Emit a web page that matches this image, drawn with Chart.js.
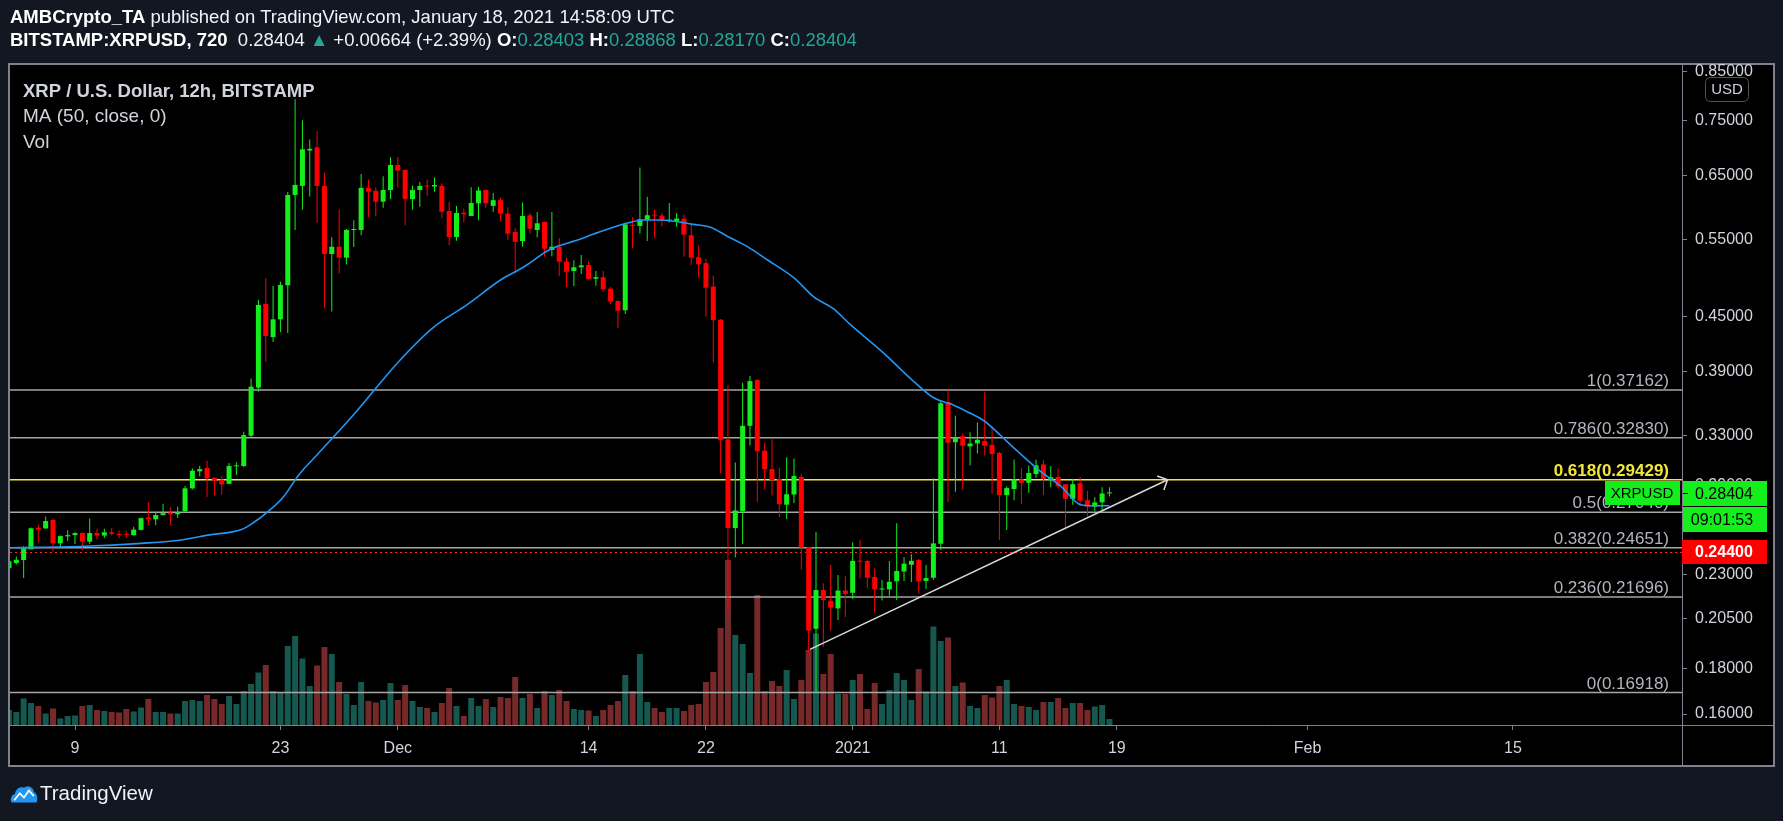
<!DOCTYPE html>
<html>
<head>
<meta charset="utf-8">
<title>XRP / U.S. Dollar, 12h, BITSTAMP</title>
<script src="https://cdn.jsdelivr.net/npm/chart.js@4.4.1/dist/chart.umd.min.js"></script>
<style>
  html, body { margin: 0; padding: 0; background: #131722; }
  body { width: 1783px; height: 821px; position: relative; overflow: hidden;
         font-family: "Liberation Sans", Arial, sans-serif; color: #e0e3eb; }
  #frame { position: absolute; left: 8px; top: 63px; width: 1767px; height: 704px;
           box-sizing: border-box; border: 2px solid #7f828c; background: #000; }
  #chart { position: absolute; left: 0; top: 0; }
  .hdr { position: absolute; left: 10px; font-size: 18.5px; line-height: 22px; white-space: nowrap; color: #f0f3fa; }
  .hdr b { font-weight: bold; color: #fff; }
  .teal { color: #26a69a; }
  #logo { position: absolute; left: 10px; top: 783px; }
  #logoText { position: absolute; left: 40px; top: 781px; font-size: 20.5px; color: #f0f3fa; }
</style>
</head>
<body>
<div id="frame"></div>
<canvas id="chart" width="1783" height="821"></canvas>
<div class="hdr" id="hdr1" style="top:6px"></div>
<div class="hdr" id="hdr2" style="top:29px"></div>
<svg id="logo" width="28" height="22" viewBox="0 0 40 26">
  <path d="M2 25 C0 20 2 14 7 13 C8 6 14 2 20 4 C25 0 34 3 34 10 C39 12 40 19 38 25 Z" fill="#2196f3"/>
  <polyline points="6,22 14,12 20,18 27,8 34,16" fill="none" stroke="#fff" stroke-width="2.5"/>
</svg>
<div id="logoText">TradingView</div>

<script>
// header
const author = 'AMBCrypto_TA';
const published = 'January 18, 2021 14:58:09 UTC';
const symbol = 'BITSTAMP:XRPUSD, 720';
const change = '+0.00664 (+2.39%)';
const lastOHLC = ['0.28403', '0.28868', '0.28170', '0.28404'];

// candles, 12h each, first one opens 4 Nov 2020 12:00 UTC
const firstCandle = '2020-11-04T12:00:00Z';
const candleHours = 12;

const opens = [
  0.234, 0.237, 0.2388, 0.2456, 0.2598, 0.2593, 0.2651, 0.2494, 0.2540, 0.2548,
  0.2562, 0.2505, 0.2562, 0.2545, 0.2567, 0.2557, 0.2556, 0.2548, 0.2583, 0.2668,
  0.2655, 0.2685, 0.2702, 0.2690, 0.2712, 0.2878, 0.3008, 0.3034, 0.2958, 0.2944,
  0.2912, 0.3047, 0.3050, 0.3300, 0.3740, 0.4650, 0.4265, 0.4467, 0.4880, 0.6173,
  0.632, 0.693, 0.6988, 0.632, 0.5294, 0.5395, 0.5244, 0.5635, 0.5635, 0.6288,
  0.6240, 0.6066, 0.6253, 0.6674, 0.6588, 0.6106, 0.6253, 0.632, 0.631, 0.632,
  0.592, 0.5534, 0.5895, 0.5845, 0.604, 0.6253, 0.600, 0.609, 0.588, 0.5605,
  0.5475, 0.5855, 0.5635, 0.5755, 0.535, 0.5395, 0.519, 0.5065, 0.5115, 0.5145,
  0.4965, 0.4985, 0.4838, 0.4685, 0.4573, 0.5712, 0.5695, 0.5785, 0.5856, 0.5852,
  0.5775, 0.5770, 0.5805, 0.5560, 0.5250, 0.5170, 0.4865, 0.4462, 0.3268, 0.2595,
  0.2712, 0.3386, 0.3815, 0.3174, 0.3026, 0.2948, 0.2758, 0.2832, 0.2965, 0.2470,
  0.1997, 0.2209, 0.2148, 0.2106, 0.2206, 0.2193, 0.2383, 0.2383, 0.2285, 0.2212,
  0.2213, 0.2260, 0.2318, 0.2359, 0.2388, 0.2262, 0.2281, 0.2491, 0.3602, 0.3245,
  0.3296, 0.3210, 0.3235, 0.3256, 0.3222, 0.3155, 0.2828, 0.2873, 0.2946, 0.2920,
  0.2987, 0.3063, 0.2941, 0.2964, 0.2909, 0.2800, 0.2916, 0.2791, 0.2743, 0.2775,
  0.28403
];
const highs = [
  0.240, 0.241, 0.2475, 0.260, 0.262, 0.2675, 0.2660, 0.2545, 0.258, 0.2568,
  0.2565, 0.266, 0.259, 0.259, 0.2595, 0.258, 0.2575, 0.2605, 0.2668, 0.2778,
  0.2705, 0.2765, 0.274, 0.2745, 0.2895, 0.3030, 0.305, 0.3093, 0.296, 0.297,
  0.3075, 0.308, 0.3335, 0.383, 0.470, 0.497, 0.487, 0.493, 0.622, 0.792,
  0.7497, 0.713, 0.7285, 0.654, 0.553, 0.594, 0.565, 0.578, 0.652, 0.6425,
  0.630, 0.648, 0.681, 0.6815, 0.660, 0.6325, 0.6385, 0.6425, 0.6465, 0.6365,
  0.606, 0.600, 0.5955, 0.630, 0.6305, 0.6258, 0.6205, 0.613, 0.598, 0.566,
  0.6055, 0.589, 0.5905, 0.5760, 0.5905, 0.552, 0.5245, 0.521, 0.528, 0.520,
  0.5065, 0.5065, 0.486, 0.4690, 0.5745, 0.5826, 0.6629, 0.6145, 0.5935, 0.589,
  0.6045, 0.589, 0.5865, 0.5715, 0.541, 0.5225, 0.5005, 0.4470, 0.3763, 0.3079,
  0.3787, 0.3855, 0.3825, 0.3240, 0.3270, 0.3039, 0.3121, 0.3110, 0.2990, 0.2472,
  0.2569, 0.2249, 0.2359, 0.2297, 0.2290, 0.2501, 0.2516, 0.2387, 0.2337, 0.2267,
  0.2383, 0.2628, 0.2408, 0.2425, 0.2394, 0.2357, 0.2954, 0.3621, 0.3718, 0.3475,
  0.3320, 0.3330, 0.3415, 0.3695, 0.3378, 0.3164, 0.2892, 0.3103, 0.3034, 0.3055,
  0.3100, 0.3098, 0.3048, 0.3030, 0.2909, 0.2950, 0.2965, 0.2858, 0.2812, 0.2887,
  0.28868
];
const lows = [
  0.232, 0.236, 0.2279, 0.2456, 0.250, 0.259, 0.2440, 0.247, 0.251, 0.249,
  0.245, 0.249, 0.252, 0.253, 0.2545, 0.253, 0.253, 0.2545, 0.258, 0.2615,
  0.2615, 0.268, 0.2615, 0.2665, 0.2705, 0.2870, 0.297, 0.2814, 0.2826, 0.283,
  0.291, 0.298, 0.304, 0.329, 0.370, 0.400, 0.421, 0.432, 0.431, 0.5635,
  0.594, 0.615, 0.5744, 0.4597, 0.456, 0.503, 0.5150, 0.539, 0.556, 0.5825,
  0.584, 0.597, 0.611, 0.630, 0.5700, 0.594, 0.5985, 0.616, 0.6225, 0.581,
  0.542, 0.548, 0.5745, 0.5845, 0.578, 0.597, 0.591, 0.5767, 0.549, 0.503,
  0.540, 0.5585, 0.5525, 0.5255, 0.5265, 0.500, 0.486, 0.487, 0.5025, 0.4950,
  0.4875, 0.4795, 0.4645, 0.4364, 0.453, 0.5375, 0.5585, 0.5475, 0.552, 0.569,
  0.5745, 0.5685, 0.5255, 0.5145, 0.4975, 0.4497, 0.3995, 0.2994, 0.2096, 0.2406,
  0.2489, 0.3218, 0.2777, 0.2870, 0.2825, 0.2671, 0.2655, 0.2770, 0.2330, 0.1877,
  0.1692, 0.1906, 0.1988, 0.2044, 0.2060, 0.2157, 0.2276, 0.2222, 0.2082, 0.2150,
  0.2176, 0.2152, 0.2262, 0.2255, 0.2188, 0.2215, 0.2267, 0.2451, 0.2778, 0.2852,
  0.2865, 0.3055, 0.3150, 0.3135, 0.2838, 0.2516, 0.2583, 0.2791, 0.2763, 0.2845,
  0.2958, 0.2828, 0.2886, 0.2877, 0.2598, 0.2758, 0.2751, 0.2677, 0.2712, 0.2717,
  0.28170
];
const closes = [
  0.238, 0.239, 0.2462, 0.2594, 0.2585, 0.2643, 0.2494, 0.2542, 0.2548, 0.2562,
  0.2505, 0.2562, 0.2545, 0.2567, 0.2557, 0.2550, 0.2550, 0.2585, 0.2663, 0.2655,
  0.2685, 0.2698, 0.2690, 0.2705, 0.2878, 0.3013, 0.3026, 0.2954, 0.2936, 0.2908,
  0.3050, 0.3055, 0.3306, 0.3749, 0.4637, 0.4277, 0.4467, 0.4884, 0.6173, 0.6337,
  0.6952, 0.696, 0.632, 0.5294, 0.5395, 0.5244, 0.5635, 0.5645, 0.6288, 0.6225,
  0.6066, 0.6253, 0.6674, 0.6575, 0.6110, 0.6253, 0.632, 0.631, 0.6335, 0.591,
  0.5534, 0.589, 0.587, 0.6045, 0.6245, 0.604, 0.609, 0.588, 0.5581, 0.5465,
  0.5844, 0.5655, 0.5735, 0.5367, 0.5395, 0.519, 0.5055, 0.5115, 0.514, 0.4962,
  0.4985, 0.4832, 0.4681, 0.4568, 0.5718, 0.5695, 0.5795, 0.5856, 0.5850, 0.5770,
  0.5780, 0.5805, 0.5568, 0.5245, 0.5155, 0.4850, 0.4457, 0.3263, 0.2596, 0.2717,
  0.3386, 0.3804, 0.3170, 0.3026, 0.2940, 0.2761, 0.2834, 0.2972, 0.2467, 0.1988,
  0.2209, 0.2152, 0.2110, 0.2206, 0.2187, 0.2383, 0.2378, 0.2281, 0.2214, 0.2218,
  0.2257, 0.2321, 0.2366, 0.2383, 0.2260, 0.2279, 0.2494, 0.3590, 0.3240, 0.3286,
  0.3215, 0.3234, 0.3265, 0.3215, 0.3147, 0.2828, 0.2880, 0.2946, 0.2920, 0.2995,
  0.3055, 0.2950, 0.2962, 0.2893, 0.2801, 0.2909, 0.2787, 0.2743, 0.2774, 0.2840,
  0.28404
];
// volume, millions of XRP
const volumes = [
  30, 26, 53, 44, 38, 23, 33, 13, 18, 19,
  38, 40, 30, 28, 26, 25, 32, 27, 35, 52,
  26, 26, 23, 23, 48, 50, 48, 60, 52, 42,
  58, 42, 68, 82, 105, 120, 68, 66, 158, 178,
  133, 78, 119, 156, 142, 86, 62, 40, 86, 48,
  45, 50, 84, 50, 80, 48, 36, 34, 26, 44,
  74, 38, 18, 54, 38, 52, 36, 56, 54, 96,
  54, 62, 34, 68, 60, 70, 48, 32, 30, 29,
  18, 30, 40, 48, 100, 68, 142, 46, 34, 26,
  34, 34, 28, 40, 42, 86, 106, 194, 330, 180,
  162, 104, 260, 68, 88, 78, 110, 52, 90, 150,
  183, 102, 142, 62, 62, 90, 102, 32, 84, 42,
  70, 104, 90, 50, 112, 67, 197, 168, 175, 78,
  85, 38, 34, 60, 55, 78, 90, 42, 38, 36,
  30, 46, 46, 54, 34, 44, 44, 30, 37, 40,
  12
];

// MA(50) line, x in days after 9 Nov 2020
const maDays = [-4.35, 0.65, 4.5, 7.25, 9.05, 11.35, 12.1, 13.15, 14.2, 15.25, 16.55, 19.15, 22.05,
  24.45, 26.7, 29, 30.6, 32.4, 34.4, 35.35, 37.65, 38.75, 39.9, 42.15, 43.3, 44.45, 45.8, 47.2,
  49, 50.35, 51.7, 52.85, 55.15, 57.05, 58.55, 59.7, 60.8, 61.95, 63.1, 64, 65.8, 67.2, 68.55,
  69.45, 70.5];
const maValues = [0.2466, 0.2475, 0.2494, 0.2516, 0.2548, 0.2586, 0.2628, 0.2709, 0.2814, 0.2980,
  0.3147, 0.3510, 0.4001, 0.4378, 0.4637, 0.4948, 0.5122, 0.5361, 0.5500, 0.5576, 0.5738, 0.5784,
  0.5784, 0.5718, 0.5677, 0.5545, 0.5400, 0.5212, 0.4975, 0.4736, 0.4590, 0.4405, 0.4086, 0.3815,
  0.3640, 0.3583, 0.3513, 0.3431, 0.3300, 0.3195, 0.3007, 0.2892, 0.2757, 0.2750, 0.2750];

// drawn trend line
const trendDays = [50.09, 74.46];
const trendPrices = [0.1893, 0.2943];

// fibonacci retracement
const fibRatios = ['1', '0.786', '0.618', '0.5', '0.382', '0.236', '0'];
const fibPrices = [0.37162, 0.32830, 0.29429, 0.27040, 0.24651, 0.21696, 0.16918];

const lastPrice = 0.28404;
const alertPrice = 0.244;
const countdown = '09:01:53';

// axes
const yTicks = [0.16, 0.18, 0.205, 0.23, 0.26, 0.29, 0.33, 0.39, 0.45, 0.55, 0.65, 0.75, 0.85];
const tickDates = ['2020-11-09', '2020-11-23', '2020-12-01', '2020-12-14', '2020-12-22',
  '2021-01-01', '2021-01-11', '2021-01-19', '2021-02-01', '2021-02-15'];
const tickLabels = ['9', '23', 'Dec', '14', '22', '2021', '11', '19', 'Feb', '15'];
const viewStart = -4.43, viewEnd = 109.52;   // days after 9 Nov
const yMin = 0.1555, yMax = 0.8656;
const volMax = 1320;

const FONT = '"Liberation Sans", Arial, sans-serif';
const UP = '#14ee1c', DOWN = '#ff0000';
const VOL_UP = '#16574f', VOL_DOWN = '#772929';
const GRID = '#7f828c', TEXT = '#d1d4dc';

Chart.defaults.font.family = FONT;

const origin = Date.UTC(2020, 10, 9);
function toDay(iso) { return (Date.parse(iso) - origin) / 86400000; }
const firstDay = toDay(firstCandle);
const candleDays = opens.map((_, i) => firstDay + i * candleHours / 24);
const tickDays = tickDates.map(d => toDay(d + 'T00:00:00Z'));
const isUp = opens.map((o, i) => closes[i] >= o);

// header text
document.getElementById('hdr1').innerHTML =
  '<b>' + author + '</b> published on TradingView.com, ' + published;
document.getElementById('hdr2').innerHTML =
  '<b>' + symbol + '</b>&nbsp; ' + lastOHLC[3] + ' <span class="teal">&#9650;</span> ' + change +
  ' <b>O:</b><span class="teal">' + lastOHLC[0] + '</span> <b>H:</b><span class="teal">' + lastOHLC[1] +
  '</span> <b>L:</b><span class="teal">' + lastOHLC[2] + '</span> <b>C:</b><span class="teal">' + lastOHLC[3] + '</span>';

function drawFibLines(chart) {
  const ctx = chart.ctx, y = chart.scales.y, a = chart.chartArea;
  ctx.save();
  ctx.beginPath();
  ctx.rect(a.left, a.top, a.right - a.left, a.bottom - a.top);
  ctx.clip();
  ctx.lineWidth = 1.5;
  fibPrices.forEach((p, i) => {
    const py = y.getPixelForValue(p);
    ctx.strokeStyle = fibRatios[i] === '0.618' ? '#f2e63c' : '#a6a6a6';
    ctx.beginPath();
    ctx.moveTo(a.left, py);
    ctx.lineTo(a.right, py);
    ctx.stroke();
  });
  // alert line
  const ay = Math.round(y.getPixelForValue(alertPrice)) + 0.5;
  ctx.strokeStyle = '#ff2a2a';
  ctx.lineWidth = 1;
  ctx.setLineDash([2, 3]);
  ctx.beginPath();
  ctx.moveTo(a.left, ay);
  ctx.lineTo(a.right, ay);
  ctx.stroke();
  ctx.restore();
}

function drawArrow(chart) {
  const meta = chart.getDatasetMeta(4);
  const p0 = meta.data[0], p1 = meta.data[1];
  const ang = Math.atan2(p1.y - p0.y, p1.x - p0.x);
  const ctx = chart.ctx;
  ctx.save();
  ctx.strokeStyle = '#d8d8d8';
  ctx.lineWidth = 1.5;
  ctx.beginPath();
  [Math.PI * 0.75, -Math.PI * 0.75].forEach(d => {
    ctx.moveTo(p1.x, p1.y);
    ctx.lineTo(p1.x + 11 * Math.cos(ang + d), p1.y + 11 * Math.sin(ang + d));
  });
  ctx.stroke();
  ctx.restore();
}

function drawLabels(chart) {
  const ctx = chart.ctx, y = chart.scales.y, a = chart.chartArea;
  ctx.save();
  ctx.textBaseline = 'alphabetic';
  // legend
  ctx.textAlign = 'left';
  ctx.fillStyle = TEXT;
  ctx.font = 'bold 18.5px ' + FONT;
  ctx.fillText('XRP / U.S. Dollar, 12h, BITSTAMP', 23, 97);
  ctx.font = '19px ' + FONT;
  ctx.fillText('MA (50, close, 0)', 23, 122);
  ctx.fillText('Vol', 23, 148);
  // fib labels
  ctx.textAlign = 'right';
  fibPrices.forEach((p, i) => {
    const py = y.getPixelForValue(p);
    const gold = fibRatios[i] === '0.618';
    ctx.font = (gold ? 'bold ' : '') + '17px ' + FONT;
    ctx.fillStyle = gold ? '#f2e63c' : '#b2b5be';
    ctx.fillText(fibRatios[i] + '(' + p.toFixed(5) + ')', a.right - 13, py - 4);
  });
  ctx.restore();
}

function box(ctx, x, y, w, h, fill, text, color, font, align, tx) {
  ctx.fillStyle = fill;
  ctx.fillRect(x, y, w, h);
  ctx.fillStyle = color;
  ctx.font = font;
  ctx.textAlign = align;
  ctx.textBaseline = 'middle';
  ctx.fillText(text, tx, y + h / 2 + 1);
}

function drawAxisBoxes(chart) {
  const ctx = chart.ctx, y = chart.scales.y, a = chart.chartArea;
  ctx.save();
  // extra separator lines in the corner
  ctx.strokeStyle = GRID;
  ctx.lineWidth = 1;
  ctx.beginPath();
  ctx.moveTo(a.right + 0.5, a.bottom);
  ctx.lineTo(a.right + 0.5, 765);
  ctx.moveTo(a.right, a.bottom + 0.5);
  ctx.lineTo(1773, a.bottom + 0.5);
  ctx.stroke();

  const py = Math.round(y.getPixelForValue(lastPrice));
  box(ctx, 1605, py - 12, 75, 24, UP, 'XRPUSD', '#000', '15px ' + FONT, 'center', 1642);
  box(ctx, a.right + 1, py - 12, 84, 25, UP, lastPrice.toFixed(5), '#000', '16px ' + FONT, 'left', 1695);
  ctx.fillStyle = '#000';
  ctx.fillRect(a.right + 1, py, 5, 1);
  box(ctx, a.right + 1, py + 14, 84, 25, UP, countdown, '#000', '16px ' + FONT, 'center', 1722);
  const ay = Math.round(y.getPixelForValue(alertPrice));
  box(ctx, a.right, ay - 12, 85, 24, DOWN, alertPrice.toFixed(5), '#fff', 'bold 16px ' + FONT, 'left', 1695);

  // currency badge
  ctx.fillStyle = '#000';
  ctx.strokeStyle = '#50535e';
  ctx.beginPath();
  ctx.roundRect(1705.5, 77.5, 43, 24, 5);
  ctx.fill();
  ctx.stroke();
  ctx.fillStyle = TEXT;
  ctx.font = '15px ' + FONT;
  ctx.textAlign = 'center';
  ctx.textBaseline = 'middle';
  ctx.fillText('USD', 1727, 90);
  ctx.restore();
}

const overlay = {
  id: 'overlay',
  afterDatasetDraw(chart, args) {
    if (args.index === 0) drawFibLines(chart);
  },
  afterDatasetsDraw(chart) {
    drawArrow(chart);
    drawLabels(chart);
  },
  afterDraw(chart) {
    drawAxisBoxes(chart);
  }
};

const barCommon = { grouped: false, barPercentage: 1, categoryPercentage: 1, borderWidth: 0, inflateAmount: 0 };

new Chart(document.getElementById('chart'), {
  type: 'bar',
  data: {
    datasets: [
      Object.assign({
        label: 'Vol', yAxisID: 'vol', order: 10, maxBarThickness: 6,
        data: volumes.map((v, i) => ({ x: candleDays[i], y: v })),
        backgroundColor: isUp.map(u => u ? VOL_UP : VOL_DOWN)
      }, barCommon),
      Object.assign({
        label: 'wicks', yAxisID: 'y', order: 3, maxBarThickness: 1,
        data: lows.map((l, i) => ({ x: candleDays[i], y: [l, highs[i]] })),
        backgroundColor: isUp.map(u => u ? UP : DOWN)
      }, barCommon),
      Object.assign({
        label: 'XRPUSD', yAxisID: 'y', order: 2, maxBarThickness: 5, minBarLength: 1,
        data: opens.map((o, i) => ({ x: candleDays[i], y: [o, closes[i]] })),
        backgroundColor: isUp.map(u => u ? UP : DOWN)
      }, barCommon),
      {
        type: 'line', label: 'MA (50, close, 0)', yAxisID: 'y', order: 1,
        data: maDays.map((d, i) => ({ x: d, y: maValues[i] })),
        borderColor: '#2196f3', borderWidth: 1.6, pointRadius: 0, cubicInterpolationMode: 'monotone'
      },
      {
        type: 'line', label: 'trend', yAxisID: 'y', order: 0,
        data: trendDays.map((d, i) => ({ x: d, y: trendPrices[i] })),
        borderColor: '#d8d8d8', borderWidth: 1.5, pointRadius: 0
      }
    ]
  },
  options: {
    responsive: false,
    animation: false,
    devicePixelRatio: 1,
    layout: { padding: { left: 10, top: 65, right: 10, bottom: 56 } },
    plugins: { legend: { display: false }, tooltip: { enabled: false } },
    scales: {
      x: {
        type: 'linear', min: viewStart, max: viewEnd, offset: false,
        afterBuildTicks: s => { s.ticks = tickDays.map(v => ({ value: v })); },
        afterFit: s => { s.height = 40; },
        ticks: {
          autoSkip: false, maxRotation: 0, padding: 9, color: TEXT, font: { size: 16 },
          callback: (v, i) => tickLabels[i]
        },
        grid: { drawOnChartArea: false, drawTicks: true, tickLength: 5, color: GRID, offset: false },
        border: { color: GRID, width: 1 }
      },
      y: {
        type: 'logarithmic', position: 'right', min: yMin, max: yMax,
        afterBuildTicks: s => { s.ticks = yTicks.map(v => ({ value: v })); },
        afterFit: s => { s.width = 91; },
        ticks: {
          autoSkip: false, padding: 8, color: TEXT, font: { size: 16 },
          callback: v => Number(v).toFixed(5)
        },
        grid: { drawOnChartArea: false, drawTicks: true, tickLength: 5, color: GRID },
        border: { color: GRID, width: 1 }
      },
      vol: { type: 'linear', display: false, min: 0, max: volMax }
    }
  },
  plugins: [overlay]
});
</script>
</body>
</html>
